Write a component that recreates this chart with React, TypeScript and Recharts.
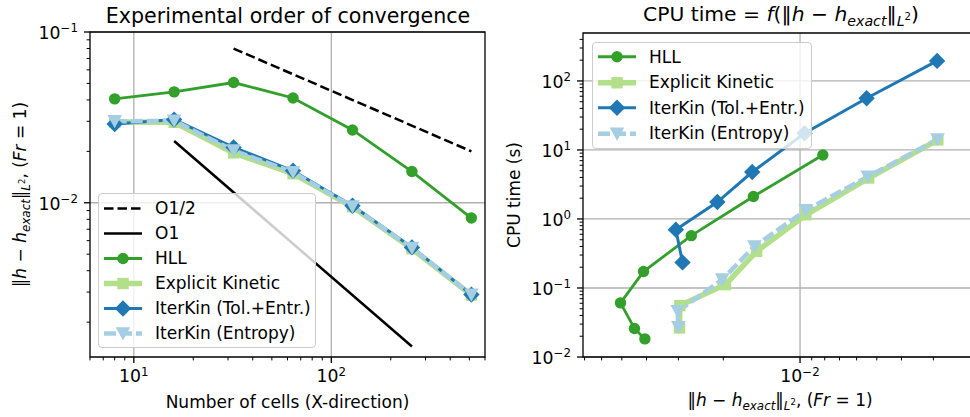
import React from 'react';
import {
  LineChart,
  Line,
  XAxis,
  YAxis,
  CartesianGrid,
  Legend,
  Label,
  ReferenceArea,
} from 'recharts';

const FONT = '"DejaVu Sans", Verdana, sans-serif';

// mesh sizes
const cells = [8, 16, 32, 64, 128, 256, 512];

// L2 errors (left panel, also the x of the right panel)
const errHll = [0.0406, 0.0446, 0.0506, 0.0411, 0.0267, 0.01524, 0.00814];
const errExplicit = [0.0297, 0.0296, 0.0196, 0.0148, 0.00948, 0.00538, 0.00288];
const errIterTol = [0.0289, 0.0307, 0.0211, 0.0154, 0.0096, 0.00548, 0.0029];
const errIterEnt = [0.03, 0.0302, 0.0202, 0.0151, 0.0095, 0.00543, 0.00289];

// CPU times in seconds
const cpuHll = [0.0183, 0.0259, 0.0608, 0.173, 0.573, 2.12, 8.47];
const cpuExplicit = [0.0264, 0.0556, 0.112, 0.34, 1.15, 3.92, 14.0];
const cpuIterTol = [0.235, 0.7, 1.76, 4.79, 17.5, 56.2, 195];
const cpuIterEnt = [0.027, 0.046, 0.132, 0.4, 1.33, 4.1, 14.2];

// reference slopes
const halfCells = [32, 512];
const halfErr = [0.08, 0.02];
const oneCells = [16, 256];
const oneErr = [0.023, 0.00144];

// axis ticks
const leftXTicks = [6, 7, 8, 9, 10, 20, 30, 40, 50, 60, 70, 80, 90, 100, 200, 300, 400, 500, 600];
const leftXMajor = [10, 100];
const leftYTicks = [
  0.002, 0.003, 0.004, 0.005, 0.006, 0.007, 0.008, 0.009, 0.01,
  0.02, 0.03, 0.04, 0.05, 0.06, 0.07, 0.08, 0.09, 0.1,
];
const leftYMajor = [0.01, 0.1];
const rightXTicks = [0.003, 0.004, 0.005, 0.006, 0.007, 0.008, 0.009, 0.01, 0.02, 0.03, 0.04, 0.05, 0.06, 0.07];
const rightXMajor = [0.01];
const rightYTicks = [
  0.01, 0.02, 0.03, 0.04, 0.05, 0.06, 0.07, 0.08, 0.09,
  0.1, 0.2, 0.3, 0.4, 0.5, 0.6, 0.7, 0.8, 0.9,
  1, 2, 3, 4, 5, 6, 7, 8, 9,
  10, 20, 30, 40, 50, 60, 70, 80, 90,
  100, 200, 300, 400,
];
const rightYMajor = [0.01, 0.1, 1, 10, 100];

const zip = (xs: number[], ys: number[]) => xs.map((x, i) => ({ x, y: ys[i] }));

type MarkerKind = 'circle' | 'square' | 'diamond' | 'triangle' | undefined;
type SeriesStyle = { name: string; color: string; width: number; dash?: string; marker?: MarkerKind };

const sHalf: SeriesStyle = { name: 'O1/2', color: '#000000', width: 2.5, dash: '9.5 4' };
const sOne: SeriesStyle = { name: 'O1', color: '#000000', width: 2.5 };
const sHll: SeriesStyle = { name: 'HLL', color: '#33a02c', width: 2.8, marker: 'circle' };
const sExplicit: SeriesStyle = { name: 'Explicit Kinetic', color: '#b2df8a', width: 5.5, marker: 'square' };
const sIterTol: SeriesStyle = { name: 'IterKin (Tol.+Entr.)', color: '#1f78b4', width: 3, marker: 'diamond' };
const sIterEnt: SeriesStyle = { name: 'IterKin (Entropy)', color: '#a6cee3', width: 4.5, dash: '12 4', marker: 'triangle' };

function Marker({ kind, cx, cy, color }: { kind: MarkerKind; cx: number; cy: number; color: string }) {
  if (cx == null || cy == null) return null;
  switch (kind) {
    case 'circle':
      return <circle cx={cx} cy={cy} r={5.7} fill={color} />;
    case 'square':
      return <rect x={cx - 5.7} y={cy - 5.7} width={11.4} height={11.4} fill={color} />;
    case 'diamond':
      return <polygon points={`${cx},${cy - 8.2} ${cx + 8.2},${cy} ${cx},${cy + 8.2} ${cx - 8.2},${cy}`} fill={color} />;
    case 'triangle':
      return <polygon points={`${cx - 7.3},${cy - 6.3} ${cx + 7.3},${cy - 6.3} ${cx},${cy + 7}`} fill={color} />;
    default:
      return null;
  }
}

function series(s: SeriesStyle, data: { x: number; y: number }[]) {
  return (
    <Line
      key={s.name}
      data={data}
      dataKey="y"
      name={s.name}
      type="linear"
      stroke={s.color}
      strokeWidth={s.width}
      strokeDasharray={s.dash}
      dot={
        s.marker
          ? (p: any) => <Marker key={`${s.name}-${p.index}`} kind={s.marker} cx={p.cx} cy={p.cy} color={s.color} />
          : false
      }
      activeDot={false}
      isAnimationActive={false}
    />
  );
}

function LegendBox({ items, width, rowHeight }: { items: SeriesStyle[]; width: number; rowHeight: number }) {
  return (
    <div
      style={{
        width,
        boxSizing: 'border-box',
        border: '1px solid #cccccc',
        borderRadius: 4,
        background: 'rgba(255,255,255,0.8)',
        padding: '1.5px 0',
        fontFamily: FONT,
        fontSize: 17,
        color: '#000',
      }}
    >
      {items.map((s) => (
        <div key={s.name} style={{ display: 'flex', alignItems: 'center', height: rowHeight }}>
          <svg width={48} height={rowHeight} style={{ flex: 'none', display: 'block' }}>
            <line x1={5} x2={43} y1={rowHeight / 2} y2={rowHeight / 2} stroke={s.color} strokeWidth={s.width} strokeDasharray={s.dash} />
            <Marker kind={s.marker} cx={24} cy={rowHeight / 2} color={s.color} />
          </svg>
          <span style={{ marginLeft: 8, whiteSpace: 'nowrap' }}>{s.name}</span>
        </div>
      ))}
    </div>
  );
}

const expLabel = (v: number) => {
  const e = Math.round(Math.log10(v));
  return e < 0 ? `\u2212${-e}` : `${e}`;
};

function XTick(props: any, majors: number[]) {
  const { x, y, payload } = props;
  const major = majors.includes(payload.value);
  return (
    <g>
      <line x1={x} x2={x} y1={y} y2={y + (major ? 6 : 3.4)} stroke="#000" strokeWidth={major ? 1.3 : 1} />
      {major && (
        <text x={x} y={y + 25.3} textAnchor="middle" fontSize={17.3} fill="#000" fontFamily={FONT}>
          10<tspan dy={-6.6} fontSize={11.8}>{expLabel(payload.value)}</tspan>
        </text>
      )}
    </g>
  );
}

function YTick(props: any, majors: number[]) {
  const { x, y, payload } = props;
  const major = majors.includes(payload.value);
  return (
    <g>
      <line x1={x} x2={x - (major ? 6 : 3.4)} y1={y} y2={y} stroke="#000" strokeWidth={major ? 1.3 : 1} />
      {major && (
        <text x={x - 12} y={y + 7} textAnchor="end" fontSize={17.3} fill="#000" fontFamily={FONT}>
          10<tspan dy={-6.6} fontSize={11.8}>{expLabel(payload.value)}</tspan>
        </text>
      )}
    </g>
  );
}

// mathtext-ish pieces: lvl 1 = subscript, lvl 2 = superscript of a subscript
type Piece = { t: string; it?: boolean; lvl?: 0 | 1 | 2 };

function MathText({ x, y, size, pieces, rotate }: { x: number; y: number; size: number; pieces: Piece[]; rotate?: boolean }) {
  let prev = 0;
  const spans = pieces.map((p, i) => {
    const shift = p.lvl === 1 ? size * 0.24 : p.lvl === 2 ? -size * 0.06 : 0;
    const fs = p.lvl === 1 ? size * 0.7 : p.lvl === 2 ? size * 0.5 : size;
    const dy = shift - prev;
    prev = shift;
    return (
      <tspan key={i} dy={dy} fontSize={fs} fontStyle={p.it ? 'italic' : 'normal'}>
        {p.t}
      </tspan>
    );
  });
  return (
    <text
      x={x}
      y={y}
      textAnchor="middle"
      fontFamily={FONT}
      fontSize={size}
      fill="#000"
      style={{ whiteSpace: 'pre' }}
      transform={rotate ? `rotate(-90, ${x}, ${y})` : undefined}
    >
      {spans}
    </text>
  );
}

const normPieces: Piece[] = [
  { t: '\u2016' },
  { t: 'h', it: true },
  { t: ' \u2212 ' },
  { t: 'h', it: true },
  { t: 'exact', it: true, lvl: 1 },
  { t: '\u2016' },
  { t: 'L', it: true, lvl: 1 },
  { t: '2', lvl: 2 },
];
const frPieces: Piece[] = [{ t: ', (' }, { t: 'Fr', it: true }, { t: ' = 1)' }];
const errLabel = [...normPieces, ...frPieces];
const cpuTitle: Piece[] = [{ t: 'CPU time = ' }, { t: 'f', it: true }, { t: '(' }, ...normPieces, { t: ')' }];

export default function App() {
  return (
    <div
      style={{
        position: 'absolute',
        left: 0,
        top: 0,
        width: 970,
        height: 417,
        overflow: 'hidden',
        background: '#fff',
        fontFamily: FONT,
      }}
    >
      <div style={{ position: 'absolute', left: 0, top: 0 }}>
        <LineChart width={490} height={417} margin={{ top: 32, right: 5, bottom: 0, left: 0 }}>
          <CartesianGrid stroke="#b0b0b0" strokeWidth={1.3} verticalValues={leftXMajor} horizontalValues={leftYMajor} />
          <XAxis
            dataKey="x"
            type="number"
            scale="log"
            domain={[6, 600]}
            allowDataOverflow
            ticks={leftXTicks}
            interval={0}
            tickSize={0}
            tickMargin={0}
            tickLine={false}
            axisLine={false}
            height={60}
            tick={(p: any) => XTick(p, leftXMajor)}
          >
            <Label
              content={({ viewBox }: any) => (
                <text x={viewBox.x + viewBox.width / 2} y={viewBox.y + 51} textAnchor="middle" fontSize={17} fontFamily={FONT} fill="#000">
                  Number of cells (X-direction)
                </text>
              )}
            />
          </XAxis>
          <YAxis
            type="number"
            scale="log"
            domain={[0.00125, 0.1]}
            allowDataOverflow
            ticks={leftYTicks}
            interval={0}
            tickSize={0}
            tickMargin={0}
            tickLine={false}
            axisLine={false}
            width={90}
            tick={(p: any) => YTick(p, leftYMajor)}
          >
            <Label
              content={({ viewBox }: any) => (
                <MathText x={viewBox.x + 26} y={viewBox.y + viewBox.height / 2} size={17} pieces={errLabel} rotate />
              )}
            />
          </YAxis>
          {series(sHalf, zip(halfCells, halfErr))}
          {series(sOne, zip(oneCells, oneErr))}
          {series(sHll, zip(cells, errHll))}
          {series(sExplicit, zip(cells, errExplicit))}
          {series(sIterTol, zip(cells, errIterTol))}
          {series(sIterEnt, zip(cells, errIterEnt))}
          <ReferenceArea x1={6} x2={600} y1={0.00125} y2={0.1} fill="none" stroke="#000" strokeWidth={1.3} />
          <Legend
            layout="vertical"
            align="center"
            verticalAlign="middle"
            wrapperStyle={{ left: 98, top: 193, width: 218 }}
            content={() => <LegendBox items={[sHalf, sOne, sHll, sExplicit, sIterTol, sIterEnt]} width={218} rowHeight={25} />}
          />
        </LineChart>
      </div>

      <div style={{ position: 'absolute', left: 490, top: 0 }}>
        <LineChart width={482} height={417} margin={{ top: 33, right: 0, bottom: 0, left: 0 }}>
          <CartesianGrid stroke="#b0b0b0" strokeWidth={1.3} verticalValues={rightXMajor} horizontalValues={rightYMajor} />
          <XAxis
            dataKey="x"
            type="number"
            scale="log"
            domain={[0.002116, 0.071]}
            reversed
            allowDataOverflow
            ticks={rightXTicks}
            interval={0}
            tickSize={0}
            tickMargin={0}
            tickLine={false}
            axisLine={false}
            height={60}
            tick={(p: any) => XTick(p, rightXMajor)}
          >
            <Label
              content={({ viewBox }: any) => (
                <MathText x={290} y={viewBox.y + 49} size={17} pieces={errLabel} />
              )}
            />
          </XAxis>
          <YAxis
            type="number"
            scale="log"
            domain={[0.01, 495]}
            allowDataOverflow
            ticks={rightYTicks}
            interval={0}
            tickSize={0}
            tickMargin={0}
            tickLine={false}
            axisLine={false}
            width={93}
            tick={(p: any) => YTick(p, rightYMajor)}
          >
            <Label
              content={({ viewBox }: any) => (
                <text
                  x={viewBox.x + 30}
                  y={viewBox.y + viewBox.height / 2}
                  transform={`rotate(-90, ${viewBox.x + 30}, ${viewBox.y + viewBox.height / 2})`}
                  textAnchor="middle"
                  fontSize={17}
                  fontFamily={FONT}
                  fill="#000"
                >
                  CPU time (s)
                </text>
              )}
            />
          </YAxis>
          {series(sHll, zip(errHll, cpuHll))}
          {series(sExplicit, zip(errExplicit, cpuExplicit))}
          {series(sIterTol, zip(errIterTol, cpuIterTol))}
          {series(sIterEnt, zip(errIterEnt, cpuIterEnt))}
          <ReferenceArea x1={0.002116} x2={0.071} y1={0.01} y2={495} fill="none" stroke="#000" strokeWidth={1.3} />
          <Legend
            layout="vertical"
            align="center"
            verticalAlign="middle"
            wrapperStyle={{ left: 102, top: 41.5, width: 220 }}
            content={() => <LegendBox items={[sHll, sExplicit, sIterTol, sIterEnt]} width={220} rowHeight={25.5} />}
          />
        </LineChart>
      </div>

      <svg width={970} height={32} style={{ position: 'absolute', left: 0, top: 0 }}>
        <text x={288} y={22.7} textAnchor="middle" fontSize={20.6} fontFamily={FONT} fill="#000">
          Experimental order of convergence
        </text>
        <MathText x={781} y={21} size={20.3} pieces={cpuTitle} />
      </svg>
    </div>
  );
}
